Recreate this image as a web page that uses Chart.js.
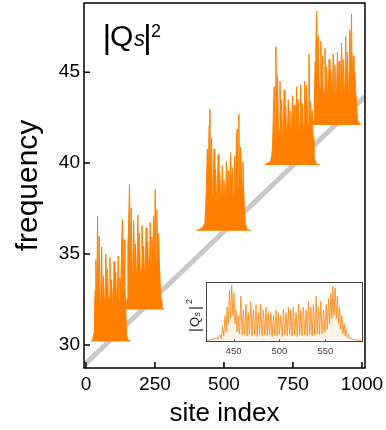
<!DOCTYPE html>
<html><head><meta charset="utf-8">
<script src="https://cdn.jsdelivr.net/npm/chart.js@4.4.0/dist/chart.umd.min.js"></script>
<style>
html,body{margin:0;padding:0;background:#fff;}
#wrap{position:relative;width:386px;height:430px;overflow:hidden;}
#main{position:absolute;left:0;top:0;}
#inset{position:absolute;left:180px;top:278px;}
</style></head><body>
<div id="wrap"><canvas id="main" width="386" height="430"></canvas><canvas id="inset" width="186" height="80"></canvas></div>
<script>
// ---- data ----
const xTicks = [0, 250, 500, 750, 1000];
const yTicks = [30, 35, 40, 45];
const insetTicks = [450, 500, 550];
const siteStep = 3;

const c1Start = 18, c1Base = 30.2;
const c1Amp = [0,0.05,0.1,0.3,0.5, 2.8,4.5,1.5,6.9,2.0, 5.8,2.2,2.4,5.2,1.8, 3.6,2.3,2.1,4.8,2.5, 4.0,2.2,2.4,4.6,1.9, 3.4,2.3,2.0,4.4,2.6, 3.8,2.1,2.5,4.7,2.2, 3.5,2.4,5.2,6.7,2.3, 5.6,3.0,2.0,0.4,0.2, 0.1,0.05,0.02,0];

const c2Start = 140, c2Base = 31.95;
const c2Amp = [0,0.05,0.15,0.6,3.5, 5.0,6.9,2.2,5.6,2.0, 2.3,4.9,2.6,3.6,2.1, 2.0,5.2,2.4,4.2,1.9, 2.2,4.6,2.7,3.5,2.0, 2.1,4.5,2.5,3.7,2.0, 2.3,4.8,2.6,4.0,2.2, 5.1,2.7,6.6,2.5,5.5, 3.2,4.2,2.6,1.5,0.5, 0.2,0.1,0.05,0];

const c3Start = 398, c3Base = 36.28;
const c3Amp = [0,0.02,0.05,0.05,0.08, 0.1,0.12,0.15,0.2,0.25, 0.35,0.6,1.2,3.0,4.5, 1.8,5.8,6.7,2.3,5.1, 1.9,1.8,4.5,2.5,3.4, 1.7,1.6,4.2,2.4,3.2, 1.5,1.6,3.6,2.0,2.8, 1.5,1.7,3.8,1.9,3.3, 1.6,1.8,4.3,2.2,3.5, 1.7,1.9,4.1,2.0,5.0, 5.6,2.4,6.4,2.0,4.6, 3.5,2.5,3.8,2.0,1.0, 0.4,0.2,0.1,0.08,0.05, 0.03,0.01,0];

const c4Start = 646, c4Base = 39.9;
const c4Amp = [0,0.02,0.05,0.08,0.1, 0.12,0.15,0.2,0.3,0.5, 1.0,2.8,4.3,1.8,6.5, 2.2,4.9,2.0,1.9,4.6, 2.3,3.6,1.6,1.7,4.1, 2.0,3.2,1.5,1.6,3.6, 2.1,3.0,1.5,1.6,3.8, 2.0,3.3,1.7,1.8,4.3, 2.2,3.6,1.8,1.9,4.4, 2.4,3.4,1.9,2.0,4.6, 2.5,4.4,3.0,2.2,6.1, 2.6,3.5,2.5,3.0,1.5, 0.6,0.3,0.15,0.1,0.05, 0.03,0.01,0];

const c5Start = 821, c5Base = 42.1;
const c5Amp = [0,0.05,0.3,3.5,4.5, 6.25,2.0,4.9,2.2,2.0, 4.6,1.7,3.8,1.9,1.8, 4.2,1.8,3.2,1.6,1.5, 3.6,1.6,3.0,1.7,1.6, 3.9,1.8,3.3,1.6,1.7, 4.0,2.0,3.5,1.8,1.9, 4.5,2.1,3.6,1.9,2.0, 4.9,2.2,4.0,2.0,2.1, 5.2,2.4,6.1,2.2,3.8, 2.5,2.9,2.0,1.2,0.4, 0.15,0.08,0.04,0.02,0];

const guideSites = [-7, 1011];
const guideFreq = [28.9, 43.66];

const insetSites = [420,425,428,430,431.6,433,435,436.5,438,439.3,440.7,442,443,444.3,445.5,446.8,448,449.3,450.5,451.6,452.7,453.8,455,456.5,458,459.3,460.7,462,463.6,464.8,466,467.3,468.7,470,471.6,473,474.5,475.8,477,478.3,479.7,481,482.5,484,485.4,486.7,488,489.3,490.5,492,493.4,494.8,496.3,497.5,498.8,500,501.4,503,504.3,505.7,507.2,508.5,509.7,511,512.3,513.8,515.2,516.7,518.1,519.4,520.7,522,523.2,524.6,526.1,527.5,529,530.3,531.6,533,534.2,535.6,537,538.5,540,541.2,542.5,543.7,545,546.5,548,549.5,550.9,552.2,553.4,554.7,556,557.1,558.2,559.5,560.7,562,563.2,564.3,565.4,566.7,568,569.2,570.5,571.6,572.7,574,575.2,576.5,577.8,579,580.6,583,586,591];
const insetQ = [0.0,0.01,0.02,0.03,0.06,0.02,0.1,0.03,0.25,0.08,0.45,0.15,0.6,0.3,0.9,0.4,1.0,0.45,0.85,0.3,0.55,0.15,0.45,0.12,0.8,0.1,0.55,0.1,0.65,0.08,0.5,0.1,0.7,0.08,0.55,0.1,0.65,0.07,0.5,0.1,0.65,0.08,0.55,0.1,0.6,0.08,0.5,0.1,0.5,0.07,0.45,0.1,0.55,0.08,0.5,0.1,0.45,0.07,0.55,0.1,0.5,0.08,0.6,0.1,0.55,0.08,0.6,0.1,0.5,0.07,0.65,0.1,0.55,0.08,0.6,0.1,0.55,0.08,0.7,0.1,0.6,0.08,0.65,0.1,0.8,0.12,0.6,0.1,0.7,0.12,0.55,0.15,0.65,0.2,0.75,0.3,0.85,0.4,0.98,0.45,0.95,0.4,0.8,0.3,0.6,0.2,0.45,0.12,0.3,0.08,0.2,0.05,0.1,0.03,0.05,0.02,0.02,0.01,0.0,0.0];

// ---- build ----
const FONT = '"Liberation Sans", Arial, Helvetica, sans-serif';
const ORANGE = 'rgb(255,128,0)';
function cluster(start, base, amp) {
  return {
    data: amp.map((a, i) => ({ x: start + siteStep * i, y: base + a })),
    borderColor: ORANGE, backgroundColor: ORANGE, borderWidth: 1,
    pointRadius: 0, tension: 0, fill: { value: base }
  };
}
const datasets = [
  cluster(c5Start, c5Base, c5Amp),
  cluster(c4Start, c4Base, c4Amp),
  cluster(c3Start, c3Base, c3Amp),
  cluster(c2Start, c2Base, c2Amp),
  cluster(c1Start, c1Base, c1Amp),
  { data: guideSites.map((s, i) => ({ x: s, y: guideFreq[i] })), borderColor: '#c8c8c8',
    borderWidth: 5, pointRadius: 0, fill: false, borderCapStyle: 'butt' }
];

function noPad(s) { s.paddingTop = 0; s.paddingBottom = 0; s.paddingLeft = 0; s.paddingRight = 0; }

const mainDeco = {
  id: 'mainDeco',
  afterDraw(chart) {
    const { ctx, chartArea: a, scales: { x, y } } = chart;
    ctx.save();
    ctx.strokeStyle = '#000'; ctx.lineWidth = 1.5;
    ctx.strokeRect(a.left, a.top, a.right - a.left, a.bottom - a.top);
    ctx.beginPath();
    xTicks.forEach(v => { const p = x.getPixelForValue(v); ctx.moveTo(p, a.bottom); ctx.lineTo(p, a.bottom - 6); });
    yTicks.forEach(v => { const p = y.getPixelForValue(v); ctx.moveTo(a.left, p); ctx.lineTo(a.left + 6, p); });
    ctx.stroke();
    ctx.fillStyle = '#000';
    ctx.font = '26px ' + FONT; ctx.textAlign = 'center'; ctx.textBaseline = 'alphabetic';
    ctx.fillText('site index', (a.left + a.right) / 2, 421);
    ctx.save();
    ctx.translate(29, (a.top + a.bottom) / 2); ctx.rotate(-Math.PI / 2);
    ctx.font = '30px ' + FONT; ctx.textBaseline = 'middle';
    ctx.fillText('frequency', 0, 0);
    ctx.restore();
    ctx.textAlign = 'left'; ctx.textBaseline = 'alphabetic';
    ctx.font = '34px ' + FONT; ctx.fillText('|', 102.5, 48);
    ctx.font = '30px ' + FONT; ctx.fillText('Q', 110, 46);
    ctx.font = 'italic 22px ' + FONT; ctx.fillText('s', 134, 46);
    ctx.font = '34px ' + FONT; ctx.fillText('|', 143, 48);
    ctx.font = '18px ' + FONT; ctx.fillText('2', 151, 36.5);
    ctx.save();
    ctx.translate(199, 332); ctx.rotate(-Math.PI / 2);
    ctx.fillStyle = '#222';
    ctx.font = '15px ' + FONT; ctx.fillText('|', 0, 1);
    ctx.font = '13px ' + FONT; ctx.fillText('Q', 5, 0);
    ctx.font = 'italic 9px ' + FONT; ctx.fillText('s', 15.5, 1);
    ctx.font = '15px ' + FONT; ctx.fillText('|', 22, 1);
    ctx.font = '9px ' + FONT; ctx.fillText('2', 28, -7);
    ctx.restore();
    ctx.restore();
  }
};

new Chart(document.getElementById('main'), {
  type: 'line',
  data: { datasets },
  options: {
    responsive: false, animation: false, devicePixelRatio: 1,
    layout: { padding: { top: 3, right: 21, left: 0, bottom: 0 } },
    plugins: { legend: { display: false }, tooltip: { enabled: false } },
    scales: {
      x: {
        type: 'linear', min: -7, max: 1011,
        afterBuildTicks: s => { s.ticks = xTicks.map(v => ({ value: v })); },
        afterFit: s => { s.height = 62; noPad(s); },
        grid: { display: false, drawTicks: false }, border: { display: false },
        ticks: { color: '#000', font: { family: FONT, size: 19 }, padding: 5, maxRotation: 0, autoSkip: false, callback: v => String(v) }
      },
      y: {
        type: 'linear', min: 28.74, max: 48.8,
        afterBuildTicks: s => { s.ticks = yTicks.map(v => ({ value: v })); },
        afterFit: s => { s.width = 84; noPad(s); },
        grid: { display: false, drawTicks: false }, border: { display: false },
        ticks: { color: '#000', font: { family: FONT, size: 19 }, padding: 4, autoSkip: false, callback: v => String(v) }
      }
    }
  },
  plugins: [mainDeco]
});

const insetDeco = {
  id: 'insetDeco',
  beforeDraw(chart) {
    const { ctx, chartArea: a } = chart;
    ctx.save(); ctx.fillStyle = '#fff';
    ctx.fillRect(a.left, a.top, a.right - a.left, a.bottom - a.top);
    ctx.restore();
  },
  afterDraw(chart) {
    const { ctx, chartArea: a, scales: { x } } = chart;
    ctx.save();
    ctx.strokeStyle = '#444'; ctx.lineWidth = 1;
    ctx.strokeRect(a.left + 0.5, a.top + 0.5, a.right - a.left - 1, a.bottom - a.top - 1);
    ctx.beginPath();
    insetTicks.forEach(v => { const p = Math.round(x.getPixelForValue(v)) + 0.5; ctx.moveTo(p, a.bottom); ctx.lineTo(p, a.bottom - 2.5); });
    ctx.stroke();
    ctx.restore();
  }
};

new Chart(document.getElementById('inset'), {
  type: 'line',
  data: { datasets: [{
    data: insetSites.map((s, i) => ({ x: s, y: insetQ[i] })),
    borderColor: 'rgba(255,135,20,0.85)', backgroundColor: 'rgba(255,175,95,0.15)',
    borderWidth: 1, pointRadius: 0, tension: 0, fill: { value: 0 }
  }] },
  options: {
    responsive: false, animation: false, devicePixelRatio: 1,
    layout: { padding: { top: 4, right: 3, left: 26, bottom: 0 } },
    plugins: { legend: { display: false }, tooltip: { enabled: false } },
    scales: {
      x: {
        type: 'linear', min: 420, max: 591,
        afterBuildTicks: s => { s.ticks = insetTicks.map(v => ({ value: v })); },
        afterFit: s => { s.height = 16; noPad(s); },
        grid: { display: false, drawTicks: false }, border: { display: false },
        ticks: { color: '#444', font: { family: FONT, size: 9.5 }, padding: 4, maxRotation: 0, autoSkip: false }
      },
      y: { display: false, min: -0.03, max: 1.055 }
    }
  },
  plugins: [insetDeco]
});
</script>
</body></html>
